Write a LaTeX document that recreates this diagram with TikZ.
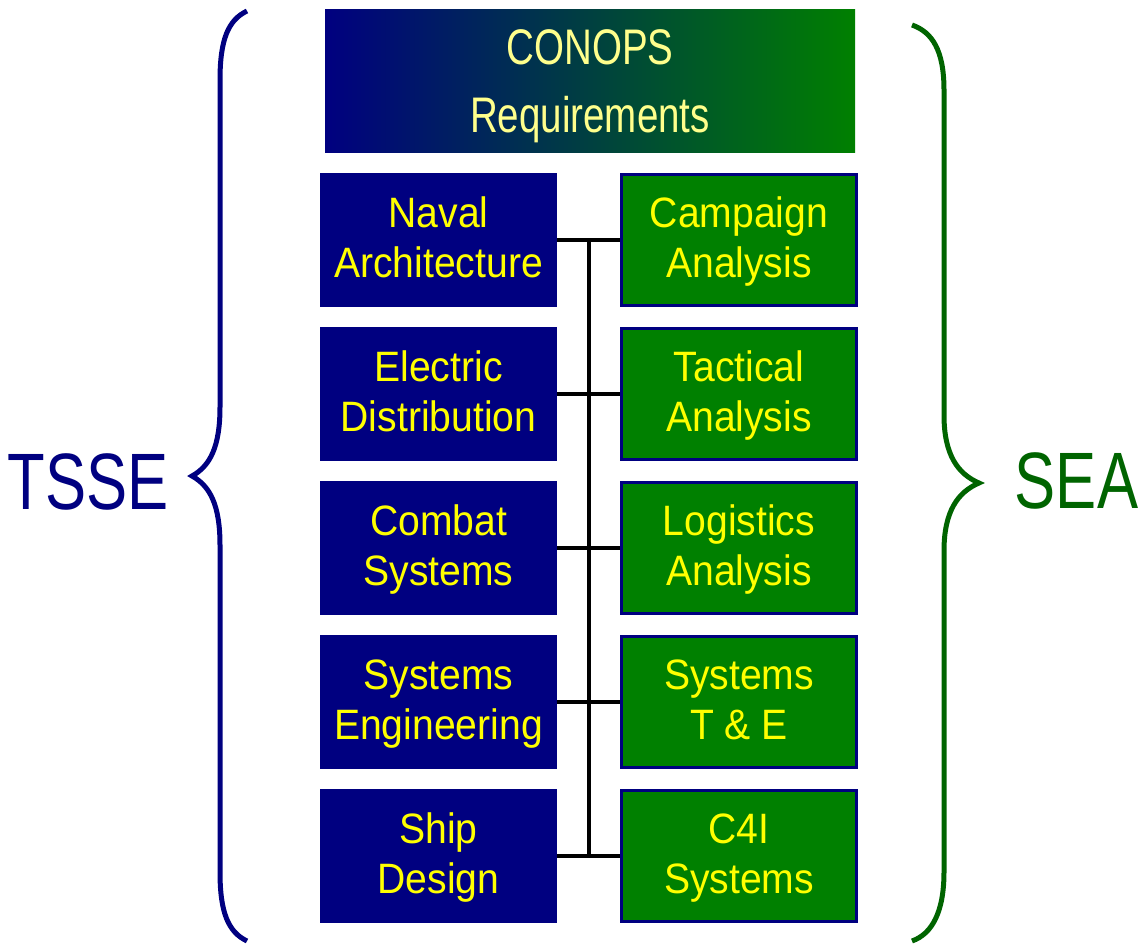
\documentclass[tikz,border=0pt]{standalone}
\usepackage{fontspec}
\setmainfont{Liberation Sans}[FakeStretch=0.77]
\newfontfamily\boxfont{Liberation Sans}[FakeStretch=0.92]
\usetikzlibrary{calc}

\definecolor{navy}{RGB}{0,0,128}
\definecolor{boxgreen}{RGB}{0,128,0}
\definecolor{darkgreen}{RGB}{0,100,0}
\definecolor{boxyellow}{RGB}{255,255,0}
\definecolor{paleyellow}{RGB}{255,255,140}

% two centred lines whose baseline is the last line
\newcommand\twolines[2]{\begin{tabular}[b]{@{}c@{}}#1\\#2\end{tabular}}

\tikzset{
  topbox/.style={rectangle, inner sep=0pt, minimum width=530pt, minimum height=143pt,
    left color=navy, right color=boxgreen, text=paleyellow,
    font=\fontsize{50}{68}\selectfont, text height=103pt, text depth=0pt},
  tsbox/.style={rectangle, inner sep=0pt, minimum width=237pt, minimum height=134pt,
    fill=navy, text=boxyellow,
    font=\boxfont\fontsize{42.5}{50}\selectfont, text height=74pt, text depth=0pt},
  seabox/.style={rectangle, inner sep=0pt, minimum width=235pt, minimum height=131pt,
    fill=boxgreen, draw=navy, line width=3pt, text=boxyellow,
    font=\boxfont\fontsize{42.5}{50}\selectfont, text height=74pt, text depth=0pt},
  link/.style={draw=black, line width=4.5pt},
  bracel/.style={draw=navy, line width=5pt},
  bracer/.style={draw=darkgreen, line width=5pt},
  sidelabel/.style={inner sep=0pt, anchor=base, font=\fontsize{80}{96}\selectfont},
}

\begin{document}
\begin{tikzpicture}[x=1pt, y=-1pt]
\useasboundingbox (0,0) rectangle (1141,944);

% shared top box
\node[topbox] (req) at (590,81.5) {\twolines{CONOPS}{Requirements}};

% TSSE column
\node[tsbox] (L1) at (438.5,240) {\twolines{Naval}{Architecture}};
\node[tsbox] (L2) at (438.5,394) {\twolines{Electric}{Distribution}};
\node[tsbox] (L3) at (438.5,548) {\twolines{Combat}{Systems}};
\node[tsbox] (L4) at (438.5,702) {\twolines{Systems}{Engineering}};
\node[tsbox] (L5) at (438.5,856) {\twolines{Ship}{Design}};

% SEA column
\node[seabox] (R1) at (739,240) {\twolines{Campaign}{Analysis}};
\node[seabox] (R2) at (739,394) {\twolines{Tactical}{Analysis}};
\node[seabox] (R3) at (739,548) {\twolines{Logistics}{Analysis}};
\node[seabox] (R4) at (739,702) {\twolines{Systems}{T \& E}};
\node[seabox] (R5) at (739,856) {\twolines{C4I}{Systems}};

% connectors between the columns
\coordinate (spine) at (589,0);
\draw[link] (spine |- L1.east) -- (spine |- L5.east);
\foreach \i in {1,...,5}{
  \draw[link] (L\i.east) -- (R\i.west);
}

% left brace
\draw[bracel] (247,11) .. controls (228,20) and (220,40) .. (220,80)
  -- (220,407) .. controls (220,447) and (210,466) .. (192,476)
  .. controls (210,486) and (220,505) .. (220,545)
  -- (220,872) .. controls (220,912) and (228,932) .. (247,941);

% right brace
\draw[bracer] (912,25) .. controls (932,32) and (944,50) .. (944,90)
  -- (944,415) .. controls (944,455) and (958,474) .. (979,483)
  .. controls (958,492) and (944,511) .. (944,551)
  -- (944,872) .. controls (944,912) and (932,934) .. (912,941);

% side labels
\node[sidelabel, text=navy] (tsse) at (88,509) {TSSE};
\node[sidelabel, text=darkgreen] (sea) at (1076.5,508) {SEA};
\end{tikzpicture}
\end{document}
